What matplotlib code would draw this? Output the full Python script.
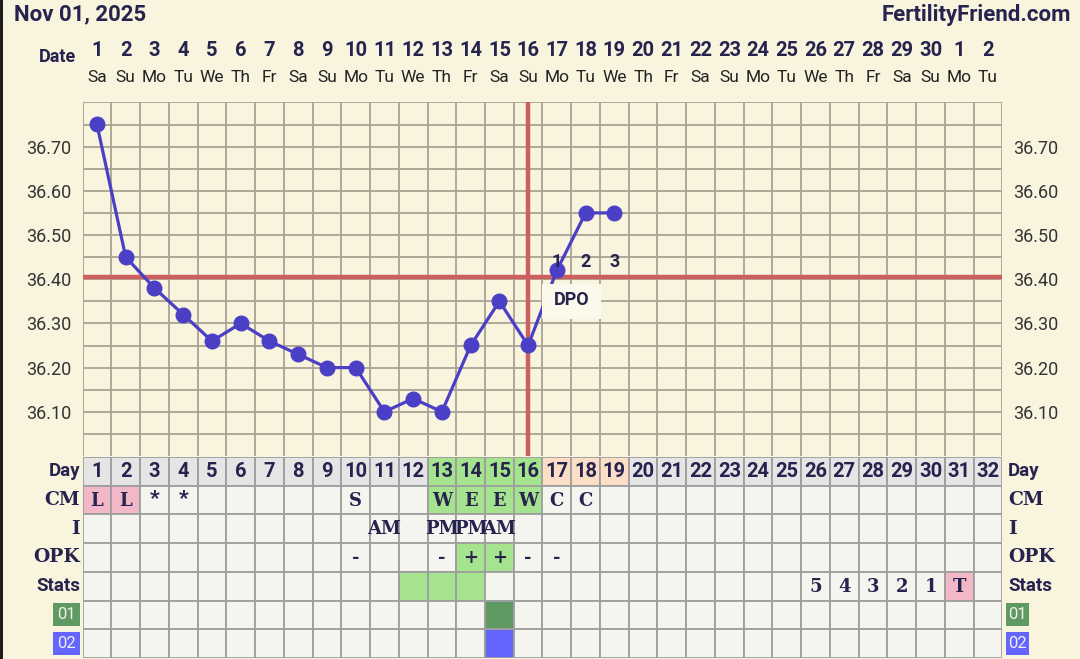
import matplotlib
matplotlib.use("Agg")
import matplotlib.pyplot as plt
import numpy as np
from matplotlib.patches import Rectangle
from matplotlib.transforms import blended_transform_factory

plt.rcParams['font.family'] = ['Roboto', 'DejaVu Sans']

# datos del gráfico
days = list(range(1, 33))
date_labels = [str(d) for d in range(1, 31)] + ['1', '2']
weekdays = ['Sa', 'Su', 'Mo', 'Tu', 'We', 'Th', 'Fr', 'Sa', 'Su', 'Mo', 'Tu', 'We', 'Th', 'Fr',
            'Sa', 'Su', 'Mo', 'Tu', 'We', 'Th', 'Fr', 'Sa', 'Su', 'Mo', 'Tu', 'We', 'Th', 'Fr',
            'Sa', 'Su', 'Mo', 'Tu']
temp_days = list(range(1, 20))
temps = [36.75, 36.45, 36.38, 36.32, 36.26, 36.30, 36.26, 36.23, 36.20, 36.20,
         36.10, 36.13, 36.10, 36.25, 36.35, 36.25, 36.42, 36.55, 36.55]
y_ticks = [36.10, 36.20, 36.30, 36.40, 36.50, 36.60, 36.70]
coverline = 36.405
ovulation_day = 16
dpo_days = [17, 18, 19]
dpo_labels = ['1', '2', '3']

row_labels = ['Day', 'CM', 'I', 'OPK', 'Stats', '01', '02']
cm = {1: 'L', 2: 'L', 3: '*', 4: '*', 10: 'S', 13: 'W', 14: 'E', 15: 'E', 16: 'W', 17: 'C', 18: 'C'}
intercourse = {11: 'AM', 13: 'PM', 14: 'PM', 15: 'AM'}
opk = {10: '-', 13: '-', 14: '+', 15: '+', 16: '-', 17: '-'}
stats = {26: '5', 27: '4', 28: '3', 29: '2', 30: '1', 31: 'T'}
row_values = [None, cm, intercourse, opk, stats, {}, {}]

# colores
bg = '#F8F4DE'
navy = '#27234F'
gridc = '#A8A392'
tgrid = '#9E9E9E'
red = '#CD5F5F'
linec = '#4B3FC6'
green = '#A6E38E'
peach = '#FCDDC6'
pink = '#F2B8C8'
cellc = '#F5F5F0'
dayc = '#E5E5E5'
dgreen = '#5F9A62'
blue = '#6464FF'

highlights = {
    (0, 13): green, (0, 14): green, (0, 15): green, (0, 16): green,
    (0, 17): peach, (0, 18): peach, (0, 19): peach,
    (1, 1): pink, (1, 2): pink,
    (1, 13): green, (1, 14): green, (1, 15): green, (1, 16): green,
    (3, 14): green, (3, 15): green,
    (4, 12): green, (4, 13): green, (4, 14): green, (4, 31): pink,
    (5, 15): dgreen, (6, 15): blue,
}

W, H = 1080, 659
fig = plt.figure(figsize=(W / 100, H / 100), dpi=100, facecolor=bg)
fig.patches.append(Rectangle((0, 0), 3 / W, 1, transform=fig.transFigure, fc='#1c1c1c', ec='none'))

# grafica de temperatura
x0, x1 = 82.6, 1002.4
ax = fig.add_axes([x0 / W, (H - 456) / H, (x1 - x0) / W, (456 - 102.4) / H])
ax.set_facecolor(bg)
ax.set_xlim(0.5, 32.5)
ax.set_ylim(36.0, 36.8)
for s in ax.spines.values():
    s.set_visible(False)
ax.vlines(np.arange(0.5, 33), 36.0, 36.8, color=gridc, lw=1.3, zorder=1)
ax.hlines(np.arange(36.05, 36.8001, 0.05), 0.5, 32.5, color=gridc, lw=1.3, zorder=1)
ax.set_xticks([])
ax.set_yticks(y_ticks)
ax.set_yticklabels([f'{t:.2f}' for t in y_ticks])
ax.tick_params(axis='y', left=False, right=False, labelleft=True, labelright=True,
               pad=4.5, labelsize=13, labelcolor='#333333')

ax.axhline(coverline, color=red, lw=3.2, zorder=3)
ax.axvline(ovulation_day, ymin=0.005, ymax=1, color=red, lw=3.2, zorder=3)
ax.plot(temp_days, temps, color=linec, lw=2.3, marker='o', ms=10.5, zorder=5, clip_on=False)

ax.add_patch(Rectangle((16.48, 36.31), 2.04, 0.08, fc='#FBF8EC', ec='none', zorder=6))
ax.text(17.5, 36.352, 'DPO', ha='center', va='center', fontsize=13, fontweight='bold', color=navy, zorder=7)
for d, lab in zip(dpo_days, dpo_labels):
    ax.text(d, 36.438, lab, ha='center', va='center', fontsize=13, fontweight='bold', color=navy, zorder=7)

# encabezado
tr = blended_transform_factory(ax.transData, fig.transFigure)
for d, lab, wd in zip(days, date_labels, weekdays):
    ax.text(d, 1 - 50 / H, lab, transform=tr, ha='center', va='center', fontsize=14.5,
            fontweight='bold', color=navy)
    ax.text(d, 1 - 78 / H, wd, transform=tr, ha='center', va='center', fontsize=12.5, color='#222222')
fig.text(76 / W, 1 - 57.5 / H, 'Date', ha='right', va='center', fontsize=13, fontweight='bold', color=navy)
fig.text(14 / W, 1 - 14 / H, 'Nov 01, 2025', ha='left', va='center', fontsize=16, fontweight='bold', color=navy)
fig.text(1071 / W, 1 - 15 / H, 'FertilityFriend.com', ha='right', va='center', fontsize=16,
         fontweight='bold', color=navy)

# tabla inferior
tab = fig.add_axes([x0 / W, (H - 658) / H, (x1 - x0) / W, (658 - 457) / H])
tab.set_xlim(0.5, 32.5)
tab.set_ylim(7, 0)
tab.axis('off')
serif = 'DejaVu Serif'
for r in range(7):
    for d in days:
        fc = highlights.get((r, d), dayc if r == 0 else cellc)
        tab.add_patch(Rectangle((d - 0.5, r), 1, 1, fc=fc, ec=tgrid, lw=1.3))
        if r == 0:
            tab.text(d, 0.5, str(d), ha='center', va='center', fontsize=14.5, fontweight='bold', color=navy)
        elif row_values[r] and d in row_values[r]:
            v = row_values[r][d]
            if v == '*':
                tab.text(d, r + 0.45, v, ha='center', va='center', fontsize=15, fontweight='heavy',
                         color=navy)
            else:
                tab.text(d, r + 0.52, v, ha='center', va='center', fontsize=13, fontweight='bold',
                         color=navy, family=serif)

for r, lab in enumerate(row_labels):
    if r >= 5:
        c = dgreen if r == 5 else blue
        tab.add_patch(Rectangle((-0.53, r + 0.1), 0.94, 0.8, fc=c, ec='none', clip_on=False))
        tab.add_patch(Rectangle((32.62, r + 0.1), 0.8, 0.8, fc=c, ec='none', clip_on=False))
        tab.text(-0.06, r + 0.5, lab, ha='center', va='center', fontsize=12, color='#F0F0F0')
        tab.text(33.02, r + 0.5, lab, ha='center', va='center', fontsize=12, color='#F0F0F0')
        continue
    fam = serif if lab in ('CM', 'I', 'OPK') else 'Roboto'
    tab.text(0.41, r + 0.5, lab, ha='right', va='center', fontsize=13.5, fontweight='bold', color=navy, family=fam)
    tab.text(32.7, r + 0.5, lab, ha='left', va='center', fontsize=13.5, fontweight='bold', color=navy, family=fam)

fig.savefig('out.png', dpi=100, facecolor=bg)
